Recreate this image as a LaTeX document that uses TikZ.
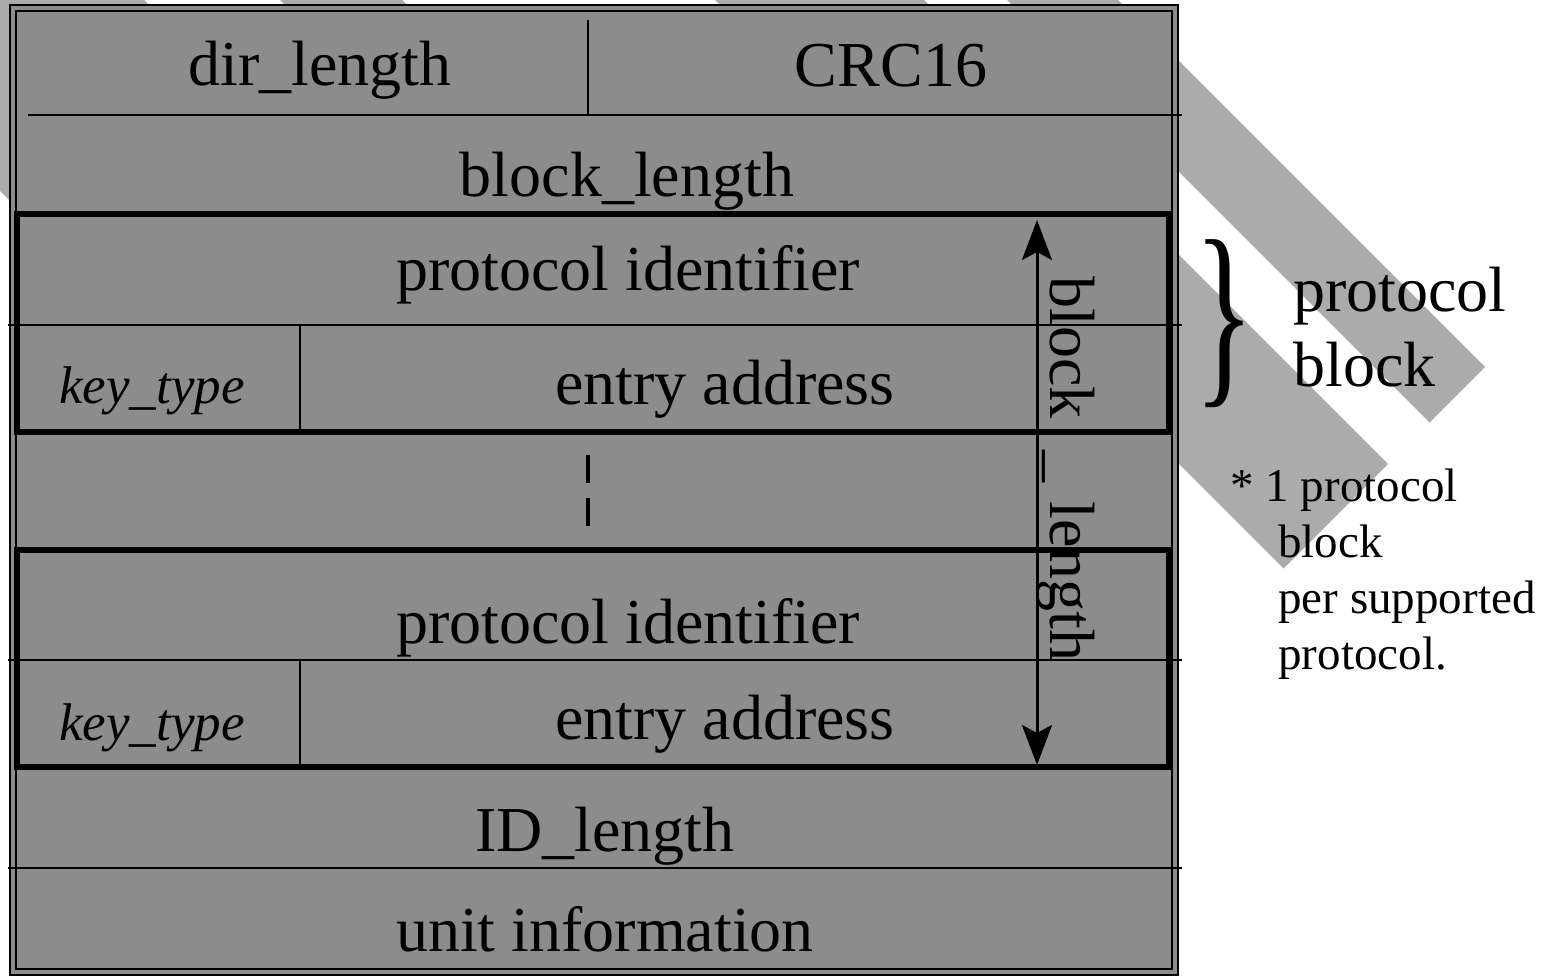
\documentclass[tikz,border=0pt]{standalone}
\usepackage{fontspec}
\setmainfont{Liberation Serif}
\usetikzlibrary{arrows.meta}

\begin{document}
\begin{tikzpicture}
[x=0.5pt,y=-0.5pt]
\tikzset{
	stripe/.style = {fill=black!33},
	field/.style = {inner sep=0, font=\fontsize{32}{36}\selectfont},
	keyfield/.style = {inner sep=0, font=\fontsize{26.5}{30}\selectfont\itshape},
	rule/.style = {line width=1pt},
	blockframe/.style = {line width=3.2pt},
	note/.style = {inner sep=0, align=left, anchor=north west},
	lenhead/.tip = {Stealth[length=20pt, width=15pt, inset=4pt]}
}

\useasboundingbox (0,0) rectangle (1551,978);
\clip (0,0) rectangle (1551,978);

\foreach \a/\b/\k in {-191/144/1700, 280/402/1700, 715/924/1852, 1007/1118/1852}
	\fill[stripe] ({(\a+\k)/2},{(\k-\a)/2}) -- ({(\b+\k)/2},{(\k-\b)/2})
		-- ({(\b-400)/2},{(-400-\b)/2}) -- ({(\a-400)/2},{(-400-\a)/2}) -- cycle;

\draw[rule, fill=black!45] (10,5) rectangle (1178,975);
\draw[rule] (16,11) rectangle (1172,969);

\draw[rule] (28,115) -- (1182,115);
\draw[rule] (588,20) -- (588,115);
\draw[rule] (8,325) -- (1182,325);
\draw[rule] (8,660) -- (1182,660);
\draw[rule] (8,868) -- (1182,868);
\draw[rule] (300,325) -- (300,432);
\draw[rule] (300,660) -- (300,767);
\draw[line width=2pt, dash pattern=on 14pt off 7.5pt] (588,455) -- (588,537);

\draw[blockframe] (17,214) rectangle (1169,432);
\draw[blockframe] (17,550) rectangle (1169,767);

\node[field] (dirlen) at (320,70) {dir\_length};
\node[field] (crc) at (891,66) {CRC16};
\node[field] (blocklen) at (627,181) {block\_length};
\node[field] (protoA) at (628,275) {protocol identifier};
\node[keyfield] (keyA) at (152,391) {key\_type};
\node[field] (entryA) at (725,389) {entry address};
\node[field] (protoB) at (628,628) {protocol identifier};
\node[keyfield] (keyB) at (152,728) {key\_type};
\node[field] (entryB) at (725,724) {entry address};
\node[field] (idlen) at (605,836) {ID\_length};
\node[field] (unit) at (605,929) {unit information};

\coordinate (lentop) at (1037,220);
\coordinate (lenbot) at (1037,765);
\draw[line width=1.5pt, lenhead-lenhead] (lentop) -- (lenbot);
\node[field, rotate=-90] (lenlabel) at (1066,469) {block\hspace{0.5em}\_\hspace{0.3em}length};

\node[inner sep=0] (brace) at (1224,324) {\resizebox*{30pt}{84pt}{\}}};
\node[note, font=\fontsize{32}{37.5}\selectfont] (pblock) at (1293,267) {protocol\\block};
\node[note, font=\fontsize{23.5}{28}\selectfont] (pnote) at (1230,468)
	{* 1 protocol\\\hspace*{24pt}block\\\hspace*{24pt}per supported\\\hspace*{24pt}protocol.};

\end{tikzpicture}
\end{document}
